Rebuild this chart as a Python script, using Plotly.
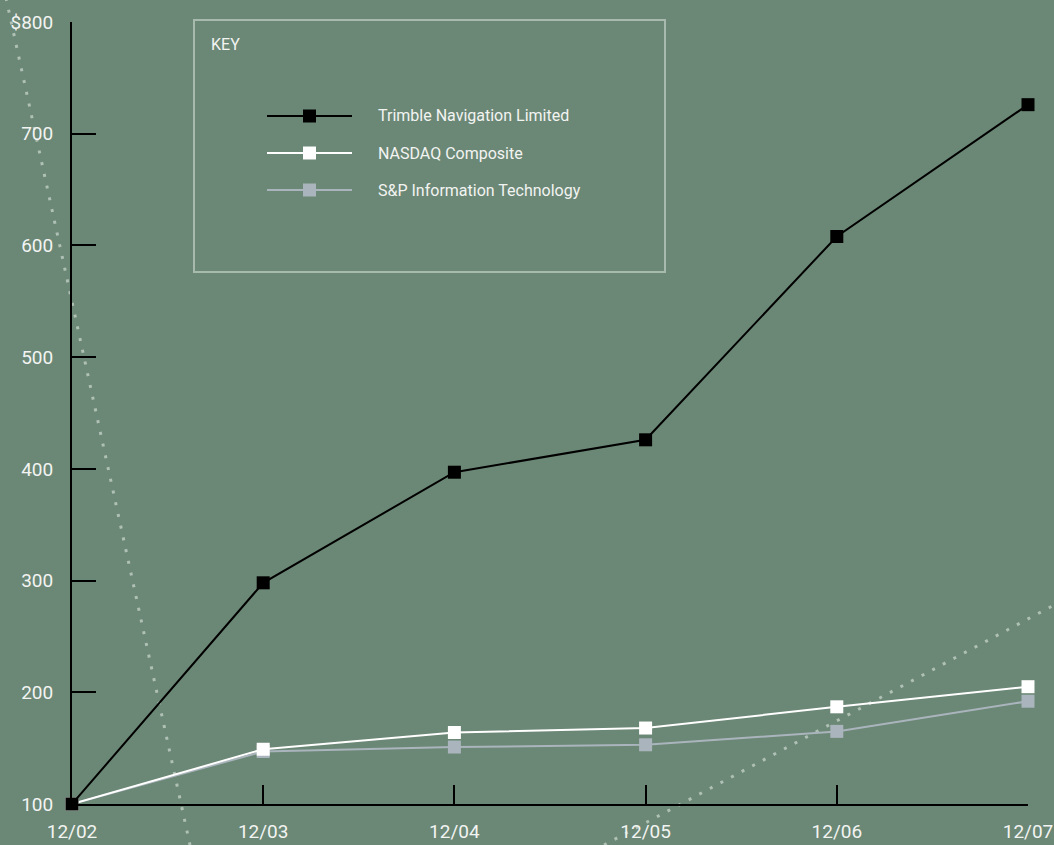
import plotly.graph_objects as go

# ---- data ----
periods = ['12/02', '12/03', '12/04', '12/05', '12/06', '12/07']
trimble = [100, 298, 397, 426, 608, 726]
nasdaq = [100, 149, 164, 168, 187, 205]
sp_it = [100, 147, 151, 153, 165, 192]
series_names = ['Trimble Navigation Limited', 'NASDAQ Composite', 'S&P Information Technology']
y_ticks = [100, 200, 300, 400, 500, 600, 700, 800]
y_tick_text = ['100', '200', '300', '400', '500', '600', '700', '$800']

# ---- style ----
BG = '#6B8775'
TXT = '#F2F4F2'
C_TRIMBLE = '#000000'
C_NASDAQ = '#FFFFFF'
C_SP = '#AAB4BC'
DOT = '#AFC0B5'
FONT = 'Roboto'

W, H = 1054, 845
L, R, T, B = 72, 26, 22, 41
PW, PH = W - L - R, H - T - B


def px(x):
    return (x - L) / PW


def py(y):
    return (H - B - y) / PH


fig = go.Figure()
for name, vals, col in [(series_names[2], sp_it, C_SP),
                        (series_names[1], nasdaq, C_NASDAQ),
                        (series_names[0], trimble, C_TRIMBLE)]:
    fig.add_trace(go.Scatter(
        x=list(range(len(periods))), y=vals, name=name, mode='lines+markers',
        line=dict(color=col, width=2),
        marker=dict(symbol='square', size=13, color=col, line=dict(width=0)),
        cliponaxis=False, showlegend=False))

shapes = []
# decorative dotted lines
for (x0, y0, x1, y1) in [(6, -2, 190, 845), (604, 845, 1056, 604)]:
    shapes.append(dict(type='line', xref='paper', yref='paper',
                       x0=px(x0), y0=py(y0), x1=px(x1), y1=py(y1),
                       line=dict(color=DOT, width=3, dash='3px,9px'), layer='below'))

# key box
shapes.append(dict(type='rect', xref='paper', yref='paper',
                   x0=px(194), y0=py(20), x1=px(665), y1=py(272),
                   line=dict(color='#A7BAAD', width=2), fillcolor='rgba(0,0,0,0)', layer='below'))
annotations = [dict(text='KEY', xref='paper', yref='paper', x=px(209), y=py(44),
                    xanchor='left', yanchor='middle', showarrow=False,
                    font=dict(family=FONT, size=16, color=TXT))]
key_rows = [(116, C_TRIMBLE), (153, C_NASDAQ), (190, C_SP)]
for name, (ky, col) in zip(series_names, key_rows):
    shapes.append(dict(type='line', xref='paper', yref='paper',
                       x0=px(267), y0=py(ky), x1=px(352), y1=py(ky),
                       line=dict(color=col, width=2)))
    shapes.append(dict(type='rect', xref='paper', yref='paper',
                       x0=px(303), y0=py(ky - 6.5), x1=px(316), y1=py(ky + 6.5),
                       line=dict(width=0), fillcolor=col))
    annotations.append(dict(text=name, xref='paper', yref='paper', x=px(376), y=py(ky),
                            xanchor='left', yanchor='middle', showarrow=False,
                            font=dict(family=FONT, size=16, color=TXT)))

fig.update_layout(
    width=W, height=H,
    margin=dict(l=L, r=R, t=T, b=B),
    paper_bgcolor=BG, plot_bgcolor=BG,
    shapes=shapes, annotations=annotations,
    font=dict(family=FONT, color=TXT),
    xaxis=dict(range=[0, len(periods) - 1], tickvals=list(range(len(periods))), ticktext=periods,
               showgrid=False, zeroline=False, showline=True, linecolor='black', linewidth=2,
               ticks='inside', ticklen=19, tickwidth=2, tickcolor='black', automargin=False,
               tickfont=dict(family=FONT, size=19, color=TXT), ticklabelstandoff=9),
    yaxis=dict(range=[100, 800], tickvals=y_ticks, ticktext=y_tick_text,
               showgrid=False, zeroline=False, showline=True, linecolor='black', linewidth=2,
               ticks='inside', ticklen=24, tickwidth=2, tickcolor='black', automargin=False,
               tickfont=dict(family=FONT, size=19, color=TXT), ticklabelstandoff=13),
)

fig.write_html('out.html')
